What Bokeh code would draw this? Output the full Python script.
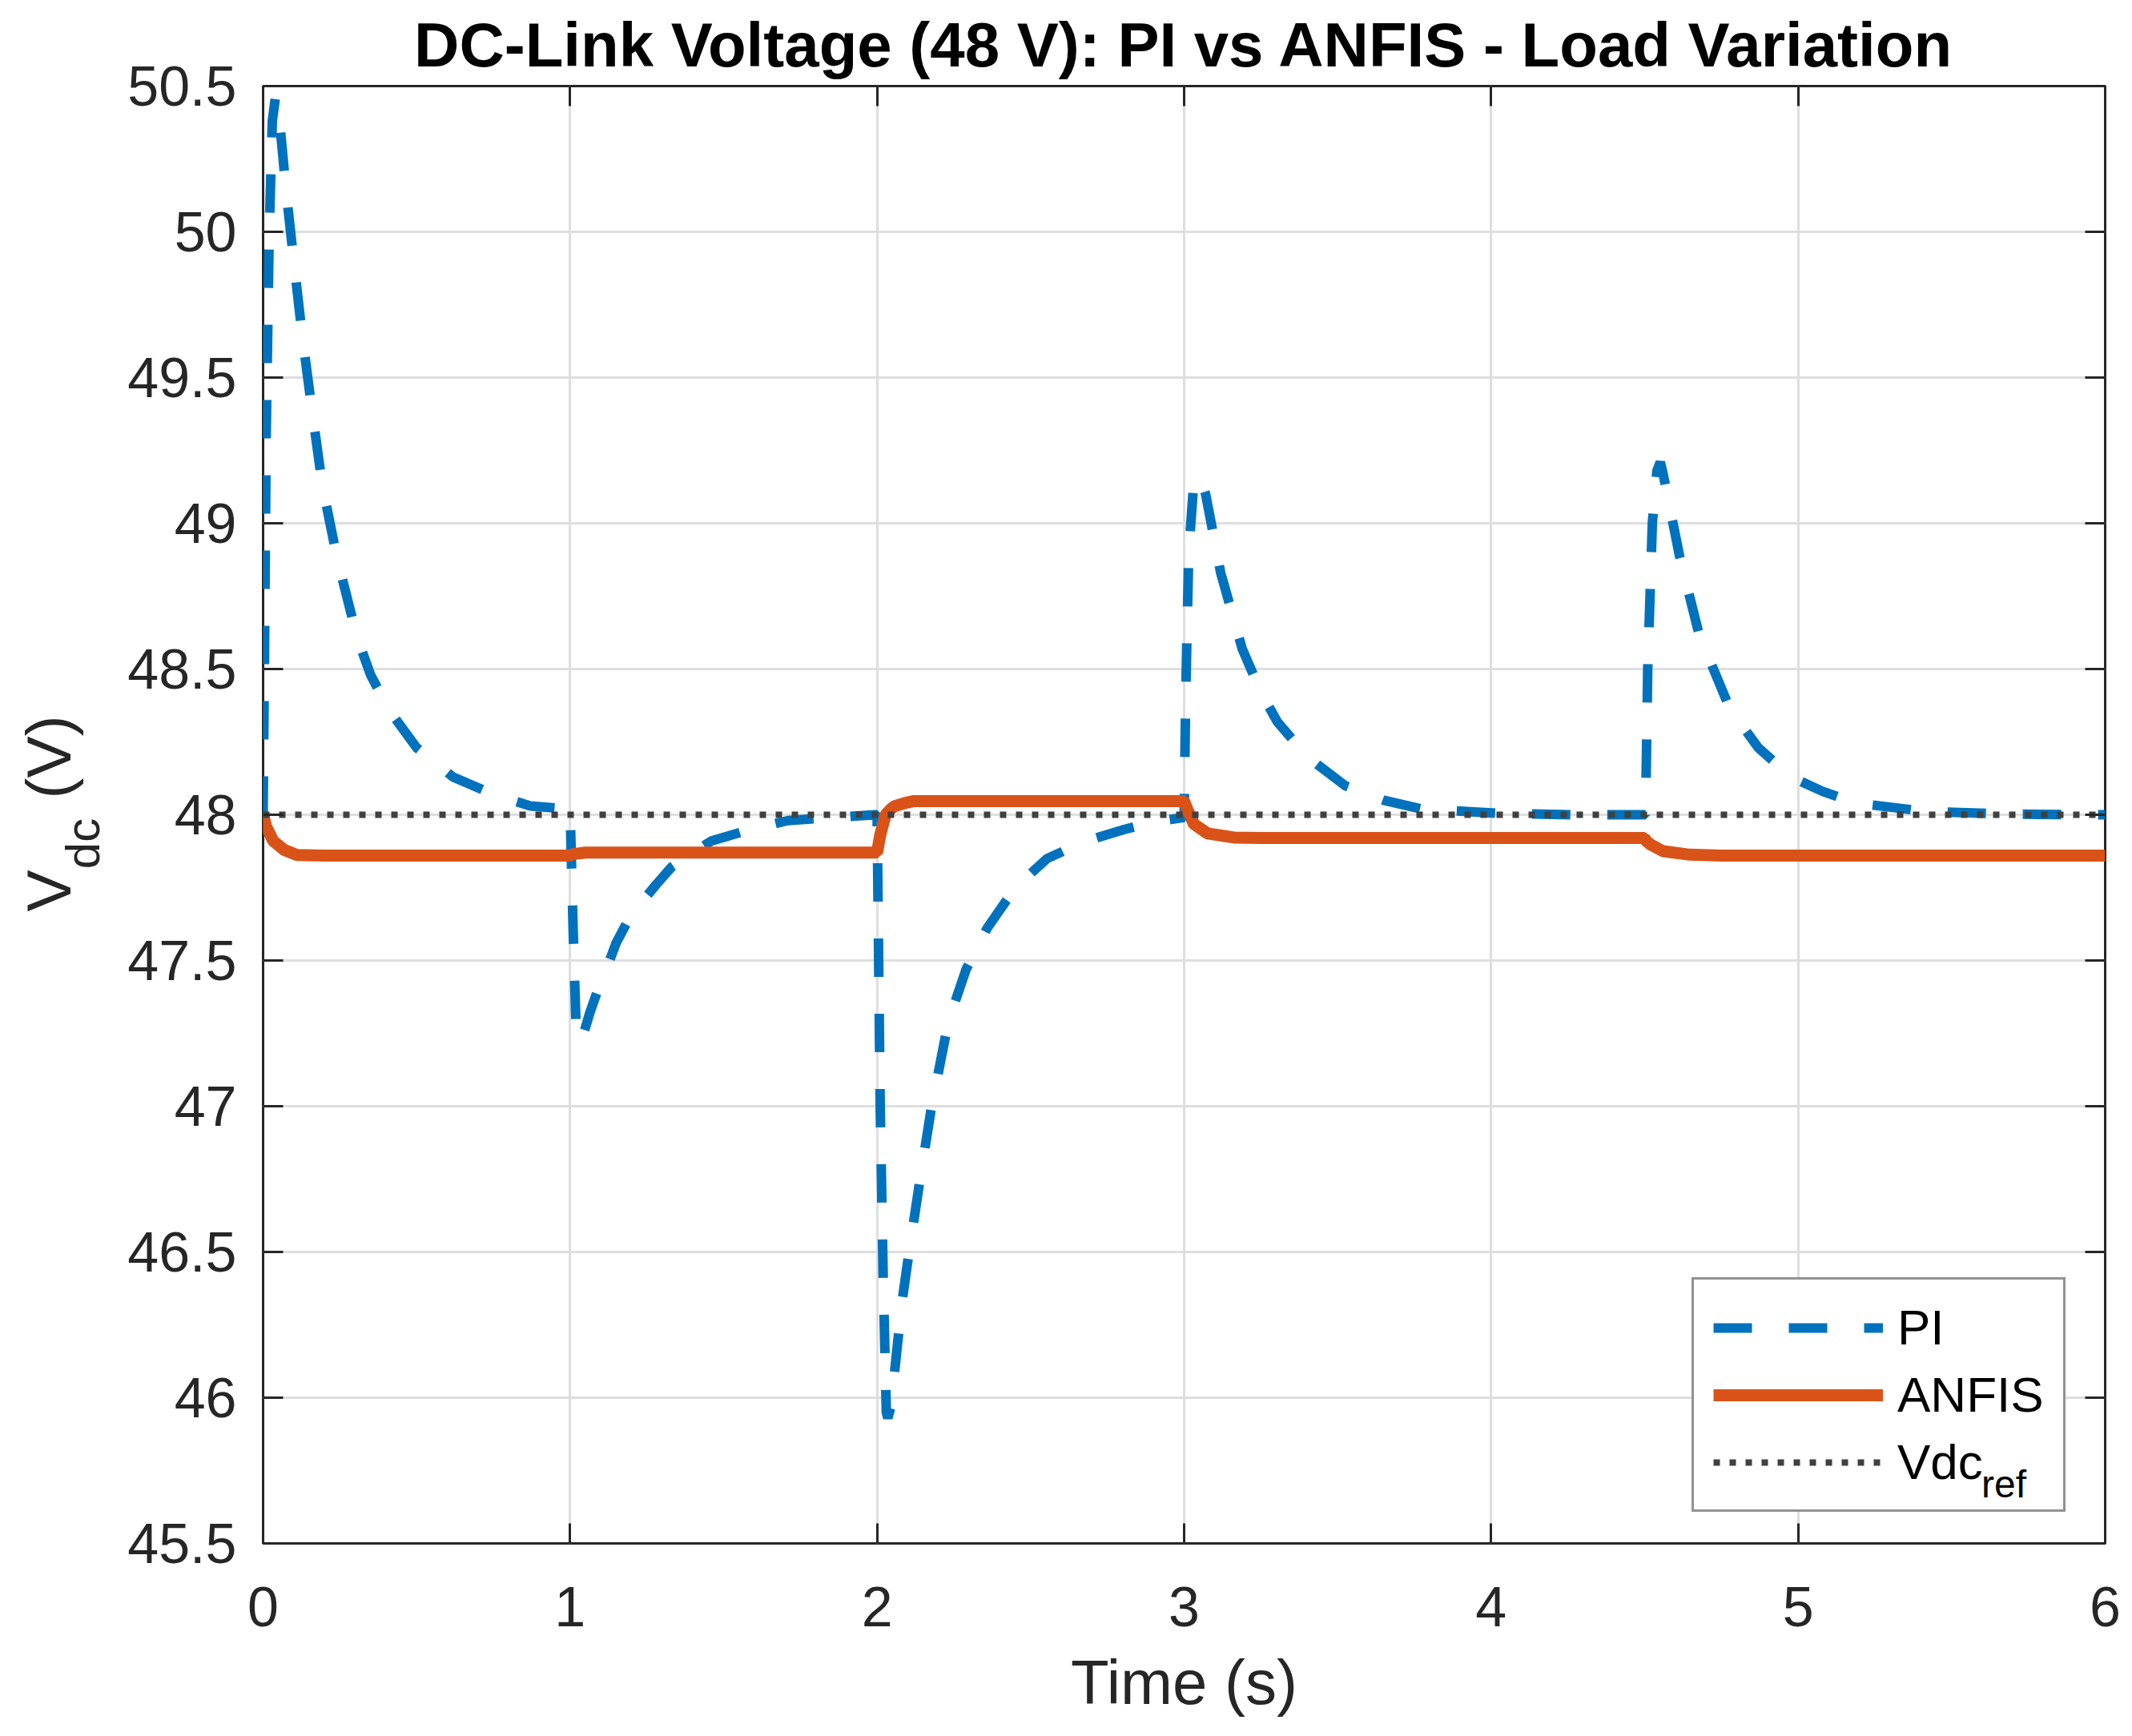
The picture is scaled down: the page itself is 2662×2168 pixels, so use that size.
import math

from bokeh.plotting import figure
from bokeh.layouts import row
from bokeh.core.properties import value
from bokeh.models import (ColumnDataSource, Range1d, FixedTicker, LinearAxis,
                          Legend, LegendItem, CustomJSTickFormatter)
from bokeh.embed import file_html
from bokeh.resources import INLINE

# ---- data ----
time_ticks = [0, 1, 2, 3, 4, 5, 6]
volt_ticks = [45.5, 46, 46.5, 47, 47.5, 48, 48.5, 49, 49.5, 50, 50.5]

pi_t = [0.0, 0.005, 0.01, 0.02, 0.03, 0.04, 0.05, 0.076, 0.102, 0.128, 0.159, 0.193,
        0.241, 0.306, 0.35, 0.41, 0.5, 0.618, 0.75, 0.87, 0.995,
        1.0, 1.01, 1.02, 1.035, 1.05, 1.064, 1.094, 1.125, 1.15, 1.19, 1.233, 1.28,
        1.33, 1.40, 1.46, 1.59, 1.71, 1.84, 1.995,
        2.0, 2.005, 2.01, 2.02, 2.03, 2.035, 2.045, 2.06, 2.08, 2.10, 2.137, 2.176,
        2.232, 2.29, 2.358, 2.45, 2.554, 2.68, 2.806, 2.9, 2.995,
        3.0, 3.005, 3.015, 3.03, 3.043, 3.055, 3.07, 3.119, 3.189, 3.25, 3.303, 3.4,
        3.524, 3.65, 3.773, 4.02, 4.26, 4.5,
        4.503, 4.51, 4.525, 4.54, 4.551, 4.56, 4.614, 4.677, 4.777, 4.87, 4.977,
        5.08, 5.19, 5.41, 5.655, 5.907, 6.0]
pi_v = [48.0, 48.6, 49.3, 50.0, 50.38, 50.46, 50.42, 50.13, 49.88, 49.64, 49.39, 49.13,
        48.88, 48.61, 48.48, 48.36, 48.23, 48.13, 48.07, 48.03, 48.02,
        48.02, 47.6, 47.25, 47.22, 47.27, 47.32, 47.41, 47.49, 47.56, 47.64, 47.70, 47.76,
        47.82, 47.87, 47.91, 47.95, 47.98, 47.99, 48.0,
        48.0, 47.5, 47.0, 46.4, 45.95, 45.93, 45.97, 46.12, 46.32, 46.47, 46.73, 46.99,
        47.29, 47.47, 47.61, 47.75, 47.85, 47.91, 47.95, 47.975, 47.99,
        47.99, 48.4, 48.9, 49.12, 49.165, 49.15, 49.10, 48.83, 48.57, 48.42, 48.32, 48.2,
        48.10, 48.05, 48.02, 48.005, 48.0, 48.0,
        48.0, 48.5, 49.0, 49.18, 49.21, 49.17, 48.886, 48.62, 48.365, 48.23, 48.13,
        48.08, 48.04, 48.012, 48.003, 48.0, 48.0]

anfis_t = [0.0, 0.01, 0.033, 0.068, 0.11, 0.2, 1.0, 1.01, 1.05, 2.0, 2.005, 2.01,
           2.02, 2.028, 2.045, 2.058, 2.09, 2.12, 3.0, 3.01, 3.032, 3.076, 3.162, 3.25,
           4.5, 4.505, 4.519, 4.56, 4.646, 4.75, 6.0]
anfis_v = [48.0, 47.96, 47.91, 47.88, 47.862, 47.86, 47.86, 47.865, 47.87, 47.87, 47.90, 47.93,
           47.97, 48.0, 48.02, 48.03, 48.04, 48.047, 48.047, 48.02, 47.968, 47.936, 47.922, 47.92,
           47.92, 47.91, 47.898, 47.875, 47.863, 47.86, 47.86]

ref_t = [0, 6]
ref_v = [48, 48]

FONT = "Liberation Sans"
AX = "#262626"
W, H = 2662, 2168
LEFT_W = 150
TOP, BOTTOM = 107, 241

# ---- narrow strip holding the rotated y label V_dc (V) ----
# its frame lines up with the main frame; data y = H - page y
side = figure(width=LEFT_W, height=H, output_backend="svg", toolbar_location=None,
              x_range=Range1d(0, LEFT_W), y_range=Range1d(BOTTOM, H - TOP),
              x_axis_type=None, y_axis_type=None,
              min_border_left=0, min_border_right=0, min_border_top=TOP, min_border_bottom=BOTTOM,
              background_fill_color="white", border_fill_color="white")
side.outline_line_color = None
side.grid.visible = False
side.text(x=[60, 60], y=[1056, 1223], text=["V", "(V)"], angle=math.pi / 2,
          text_font=value(FONT), text_font_size="78px", text_color=AX,
          text_align="center", text_baseline="middle")
side.text(x=[103], y=[1115], text=["dc"], angle=math.pi / 2,
          text_font=value(FONT), text_font_size="60px", text_color=AX,
          text_align="center", text_baseline="middle")

# ---- main plot ----
p = figure(width=W - LEFT_W, height=H, output_backend="svg", toolbar_location=None,
           x_range=Range1d(0, 6), y_range=Range1d(45.5, 50.5),
           min_border_left=328 - LEFT_W, min_border_right=34, min_border_top=TOP, min_border_bottom=BOTTOM,
           background_fill_color="white", border_fill_color="white")

p.title.text = "DC-Link Voltage (48 V): PI vs ANFIS - Load Variation"
p.title.text_font = FONT
p.title.text_font_size = "78px"
p.title.text_font_style = "bold"
p.title.text_color = "black"
p.title.align = "center"
p.title.standoff = 15

p.outline_line_color = AX
p.outline_line_width = 3

fmt = CustomJSTickFormatter(code="return (Math.round(tick * 10) / 10).toString();")
blank = CustomJSTickFormatter(code="return '';")


def style_axis(ax, ticks, labels=True):
    ax.ticker = FixedTicker(ticks=ticks)
    ax.axis_line_color = None
    ax.major_tick_in = 25
    ax.major_tick_out = 0
    ax.major_tick_line_color = AX
    ax.major_tick_line_width = 3
    ax.minor_tick_line_color = None
    if labels:
        ax.formatter = fmt
        ax.major_label_text_font = FONT
        ax.major_label_text_font_size = "70px"
        ax.major_label_text_color = AX
    else:
        ax.formatter = blank
        ax.major_label_text_font_size = "0px"
        ax.major_label_standoff = 0
        ax.axis_label = None


style_axis(p.xaxis[0], time_ticks)
style_axis(p.yaxis[0], volt_ticks)
p.xaxis.major_label_standoff = 54
p.yaxis.major_label_standoff = 33
p.xaxis.axis_label = "Time (s)"
p.xaxis.axis_label_text_font = FONT
p.xaxis.axis_label_text_font_size = "78px"
p.xaxis.axis_label_text_font_style = "normal"
p.xaxis.axis_label_text_color = AX
p.xaxis.axis_label_standoff = 23

top_axis = LinearAxis()
right_axis = LinearAxis()
style_axis(top_axis, time_ticks, labels=False)
style_axis(right_axis, volt_ticks, labels=False)
p.add_layout(top_axis, "above")
p.add_layout(right_axis, "right")

p.xgrid.grid_line_color = "#dedede"
p.xgrid.grid_line_width = 3
p.ygrid.grid_line_color = "#dedede"
p.ygrid.grid_line_width = 3

src_pi = ColumnDataSource(data=dict(t=pi_t, v=pi_v))
src_anfis = ColumnDataSource(data=dict(t=anfis_t, v=anfis_v))
src_ref = ColumnDataSource(data=dict(t=ref_t, v=ref_v))

r_pi = p.line("t", "v", source=src_pi, line_color="#0072BD", line_width=12, line_dash="48 46")
r_anfis = p.line("t", "v", source=src_anfis, line_color="#D95319", line_width=15)
r_ref = p.line("t", "v", source=src_ref, line_color="#404040", line_width=8, line_dash="8 12")

legend = Legend(items=[LegendItem(label="PI", renderers=[r_pi]),
                       LegendItem(label="ANFIS", renderers=[r_anfis]),
                       LegendItem(label="Vdc", renderers=[r_ref])],
                location=(1784, 39), padding=24, spacing=13, margin=0,
                glyph_width=212, glyph_height=70, label_height=70, label_standoff=18,
                label_text_font=FONT, label_text_font_size="62px", label_text_color="black",
                border_line_color=AX, border_line_width=3,
                background_fill_color="white", background_fill_alpha=1)
p.add_layout(legend)

# subscript "ref" of the last entry: a glyph-less legend laid over the first one
sub = Legend(items=[LegendItem(label="ref", renderers=[r_ref])],
             location=(2146, 46), padding=0, spacing=0, margin=0,
             glyph_width=0, glyph_height=54, label_height=54, label_standoff=0,
             label_text_font=FONT, label_text_font_size="48px", label_text_color="black",
             border_line_color=None, background_fill_alpha=0)
p.add_layout(sub)

layout = row(side, p)

open("out.html", "w").write(file_html(layout, INLINE))
